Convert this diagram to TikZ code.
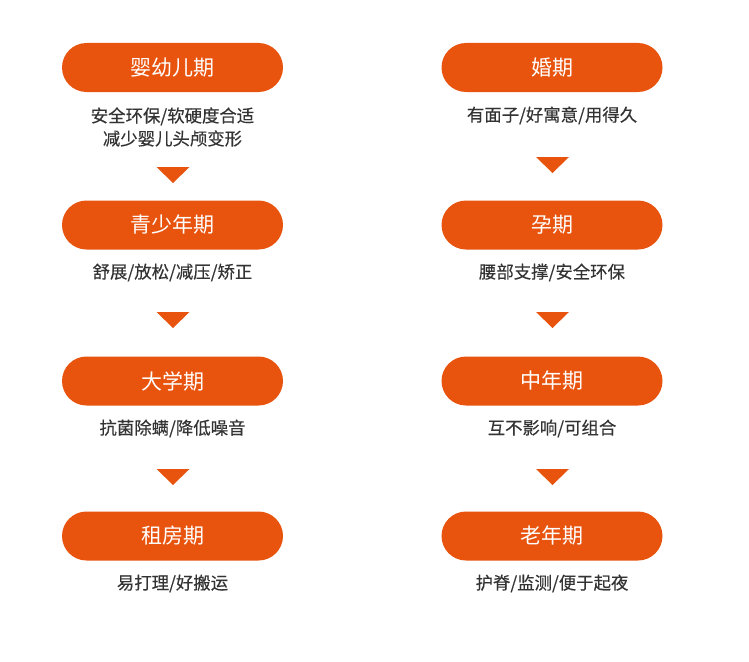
\documentclass[tikz,border=0pt]{standalone}
\usepackage{fontspec}
\newfontfamily\cjk{Noto Sans CJK SC}
\newfontfamily\cjkd[FakeBold=0.3]{Noto Sans CJK SC}
\definecolor{brand}{HTML}{E8530E}
\definecolor{desc}{HTML}{333333}
\tikzset{
  pill/.style={fill=brand, rounded corners=24.5pt, minimum width=221pt, minimum height=49pt, inner sep=0pt, text=white, font=\cjk\fontsize{21}{24}\selectfont},
  desctext/.style={text=desc, font=\cjkd\fontsize{17.4}{23}\selectfont, align=center, inner sep=0pt},
  tri/.style={fill=brand}
}
\newcommand{\downtri}[2]{\fill[tri] (#1-16.5,#2) -- (#1+16.5,#2) -- (#1,#2+16) -- cycle;}
\begin{document}
\begin{tikzpicture}[x=1pt,y=-1pt]
\useasboundingbox (0,0) rectangle (749,661);
% left column
\node[pill] (p1) at (172.5,67.5) {婴幼儿期};
\node[desctext] (d1) at (172.5,127) {安全环保/软硬度合适\\减少婴儿头颅变形};
\downtri{173}{167}
\node[pill] (p2) at (172.5,225) {青少年期};
\node[desctext] (d2) at (172.5,272.5) {舒展/放松/减压/矫正};
\downtri{173}{312}
\node[pill] (p3) at (172.5,381) {大学期};
\node[desctext] (d3) at (172.5,428.5) {抗菌除螨/降低噪音};
\downtri{173}{469}
\node[pill] (p4) at (172.5,536) {租房期};
\node[desctext] (d4) at (172.5,583.5) {易打理/好搬运};
% right column
\node[pill] (q1) at (552,67.5) {婚期};
\node[desctext] (e1) at (552,115.5) {有面子/好寓意/用得久};
\downtri{552.5}{157}
\node[pill] (q2) at (552,225) {孕期};
\node[desctext] (e2) at (552,272.5) {腰部支撑/安全环保};
\downtri{552.5}{312}
\node[pill] (q3) at (552,381) {中年期};
\node[desctext] (e3) at (552,428.5) {互不影响/可组合};
\downtri{552.5}{469}
\node[pill] (q4) at (552,536) {老年期};
\node[desctext] (e4) at (552,583.5) {护脊/监测/便于起夜};
\end{tikzpicture}
\end{document}
